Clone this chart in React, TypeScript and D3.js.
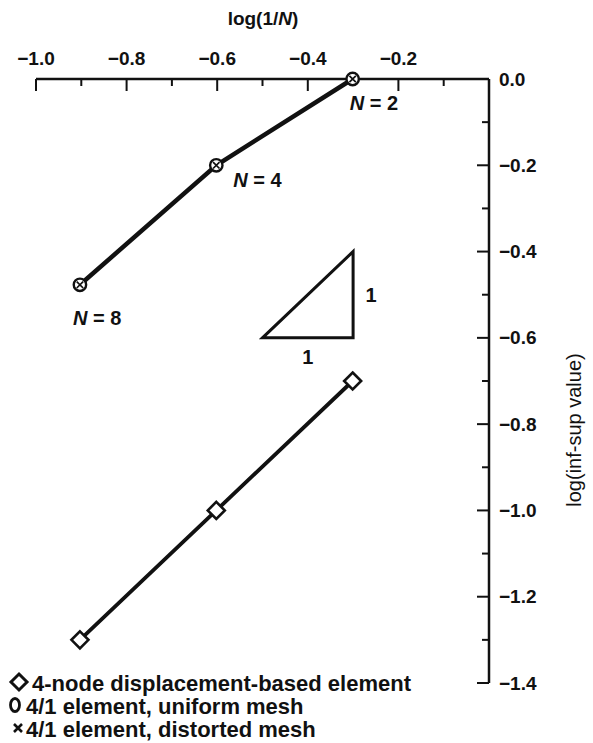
import React from 'react';
import * as d3 from 'd3';

// log(1/N) for N = 8, 4, 2
const logInvN = [-0.903, -0.602, -0.301];
const meshLabels = ['8', '4', '2'];

// log(inf-sup value) per element type
const displacementBased = [-1.3, -1.0, -0.7];
const uniformMesh = [-0.477, -0.2, 0.0];
const distortedMesh = [-0.477, -0.2, 0.0];

const xLabelValues = [-1.0, -0.8, -0.6, -0.4, -0.2];
const yLabelValues = [0.0, -0.2, -0.4, -0.6, -0.8, -1.0, -1.2, -1.4];

// slope 1:1 triangle, in data units
const slopeTriangle: [number, number][] = [
  [-0.5, -0.6],
  [-0.3, -0.6],
  [-0.3, -0.4],
];

const legendItems = [
  '4-node displacement-based element',
  '4/1 element, uniform mesh',
  '4/1 element, distorted mesh',
];

const W = 593;
const H = 743;
const FONT = 'Liberation Sans, Arial, Helvetica, sans-serif';

// offsets of the N = ... labels from their points
const nLabelOffsets = [
  [-7, 40],
  [17, 22],
  [-3, 31],
];

function App() {
  const x = d3.scaleLinear().domain([-1, 0]).range([36, 489]);
  const y = d3.scaleLinear().domain([0, -1.4]).range([79, 683]);
  const fmt = d3.format('.1f');

  const xTicks = x.ticks(10);
  const yTicks = y.ticks(14);
  const isMajor = (v: number) => Math.abs(Math.round(v * 10)) % 2 === 0;

  const line = d3
    .line<number>()
    .x((_, i) => x(logInvN[i]))
    .y((d) => y(d));

  const tri = d3
    .line<[number, number]>()
    .x((d) => x(d[0]))
    .y((d) => y(d[1]));

  const diamond = (r: number) => `M0,${-r}L${r},0L0,${r}L${-r},0Z`;

  return (
    <svg
      width={W}
      height={H}
      style={{ position: 'absolute', left: 0, top: 0, background: '#fff' }}
      fontFamily={FONT}
    >
      <rect width={W} height={H} fill="#fff" />

      {/* top axis */}
      <g>
        <line x1={x(-1)} x2={x(0)} y1={y(0)} y2={y(0)} stroke="#111" strokeWidth={2.5} />
        {xTicks.map((t) => (
          <line
            key={t}
            x1={x(t)}
            x2={x(t)}
            y1={y(0)}
            y2={y(0) + (isMajor(t) ? 12 : 7)}
            stroke="#111"
            strokeWidth={2}
          />
        ))}
        {xLabelValues.map((t) => (
          <text
            key={t}
            x={x(t)}
            y={y(0) - 21}
            textAnchor="middle"
            dominantBaseline="central"
            fontSize={19}
            fontWeight="bold"
            fill="#111"
          >
            {fmt(t)}
          </text>
        ))}
        <text
          x={263}
          y={18}
          textAnchor="middle"
          dominantBaseline="central"
          fontSize={19}
          fontWeight="bold"
          fill="#111"
        >
          log(1/<tspan fontStyle="italic">N</tspan>)
        </text>
      </g>

      {/* right axis */}
      <g>
        <line x1={x(0)} x2={x(0)} y1={y(0)} y2={y(-1.4)} stroke="#111" strokeWidth={2.5} />
        {yTicks.map((t) => (
          <line
            key={t}
            x1={x(0)}
            x2={x(0) - (isMajor(t) ? 12 : 7)}
            y1={y(t)}
            y2={y(t)}
            stroke="#111"
            strokeWidth={2}
          />
        ))}
        {yLabelValues.map((t) => (
          <text
            key={t}
            x={x(0) + 10}
            y={y(t)}
            dominantBaseline="central"
            fontSize={19}
            fontWeight="bold"
            fill="#111"
          >
            {fmt(t)}
          </text>
        ))}
        <text
          transform="translate(574,430) rotate(-90)"
          textAnchor="middle"
          dominantBaseline="central"
          fontSize={20}
          fill="#111"
        >
          log(inf-sup value)
        </text>
      </g>

      {/* 4/1 element series */}
      <path d={line(uniformMesh) ?? ''} fill="none" stroke="#111" strokeWidth={4.5} />
      {uniformMesh.map((v, i) => (
        <circle
          key={'u' + i}
          cx={x(logInvN[i])}
          cy={y(v)}
          r={6.2}
          fill="#fff"
          stroke="#111"
          strokeWidth={2.4}
        />
      ))}
      {distortedMesh.map((v, i) => (
        <g key={'d' + i} transform={`translate(${x(logInvN[i])},${y(v)})`}>
          <path d="M-3.2,-3.2L3.2,3.2M-3.2,3.2L3.2,-3.2" stroke="#111" strokeWidth={1.7} />
        </g>
      ))}
      {meshLabels.map((n, i) => (
        <text
          key={'n' + n}
          x={x(logInvN[i]) + nLabelOffsets[i][0]}
          y={y(uniformMesh[i]) + nLabelOffsets[i][1]}
          fontSize={20}
          fontWeight="bold"
          fill="#111"
        >
          <tspan fontStyle="italic">N</tspan> = {n}
        </text>
      ))}

      {/* displacement-based series */}
      <path d={line(displacementBased) ?? ''} fill="none" stroke="#111" strokeWidth={3.8} />
      {displacementBased.map((v, i) => (
        <path
          key={'b' + i}
          transform={`translate(${x(logInvN[i])},${y(v)})`}
          d={diamond(8.5)}
          fill="#fff"
          stroke="#111"
          strokeWidth={2.6}
        />
      ))}

      {/* slope triangle */}
      <path
        d={(tri(slopeTriangle) ?? '') + 'Z'}
        fill="none"
        stroke="#111"
        strokeWidth={3}
        strokeLinejoin="miter"
      />
      <text
        x={x(slopeTriangle[1][0]) + 18}
        y={(y(slopeTriangle[1][1]) + y(slopeTriangle[2][1])) / 2}
        textAnchor="middle"
        dominantBaseline="central"
        fontSize={20}
        fontWeight="bold"
        fill="#111"
      >
        1
      </text>
      <text
        x={(x(slopeTriangle[0][0]) + x(slopeTriangle[1][0])) / 2}
        y={y(slopeTriangle[0][1]) + 19}
        textAnchor="middle"
        dominantBaseline="central"
        fontSize={20}
        fontWeight="bold"
        fill="#111"
      >
        1
      </text>

      {/* legend */}
      <g fill="#111">
        <path
          transform="translate(19,682)"
          d={diamond(8)}
          fill="none"
          stroke="#111"
          strokeWidth={3}
        />
        <ellipse cx={15} cy={705} rx={4.5} ry={6.5} fill="none" stroke="#111" strokeWidth={2.8} />
        <path
          transform="translate(18,728)"
          d="M-4,-4L4,4M-4,4L4,-4"
          stroke="#111"
          strokeWidth={2.6}
        />
        {legendItems.map((s, i) => (
          <text
            key={s}
            x={i === 0 ? 32 : 26}
            y={683 + i * 23}
            dominantBaseline="central"
            fontSize={22}
            fontWeight="bold"
          >
            {s}
          </text>
        ))}
      </g>
    </svg>
  );
}

export default App;
